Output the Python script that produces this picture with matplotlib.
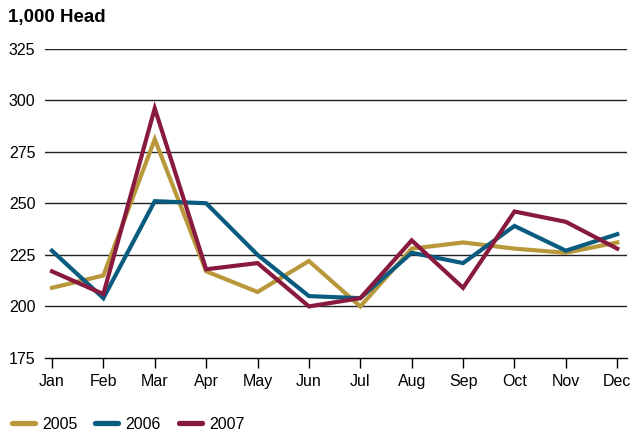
import matplotlib

matplotlib.use("Agg")
import matplotlib.pyplot as plt
import numpy as np

plt.rcParams["font.family"] = ["Liberation Sans", "DejaVu Sans"]

MONTHS = ["Jan", "Feb", "Mar", "Apr", "May", "Jun",
          "Jul", "Aug", "Sep", "Oct", "Nov", "Dec"]
YEARS = ["2005", "2006", "2007"]

# monthly values, 1,000 head
head_2005 = [209, 215, 281, 217, 207, 222, 200, 228, 231, 228, 226, 231]
head_2006 = [227, 204, 251, 250, 225, 205, 204, 226, 221, 239, 227, 235]
head_2007 = [217, 206, 296, 218, 221, 200, 204, 232, 209, 246, 241, 228]

Y_TICKS = [175, 200, 225, 250, 275, 300, 325]

COLORS = {"2005": "#B8983A", "2006": "#0A5B80", "2007": "#891A3F"}

fig = plt.figure(figsize=(6.3, 4.36), dpi=100)
ax = fig.add_axes([45 / 630, 1 - 358 / 436, 582 / 630, (358 - 48.5) / 436])

x = np.arange(len(MONTHS))
for year, vals in zip(YEARS, [head_2005, head_2006, head_2007]):
    ax.plot(x, vals, color=COLORS[year], linewidth=3.0, label=year,
            solid_joinstyle="miter", zorder=3)

ax.set_ylim(175, 325)
ax.set_xlim(-0.136, 11.19)
ax.set_yticks(Y_TICKS)
ax.set_yticklabels([str(v) for v in Y_TICKS], fontsize=11.5)
ax.set_xticks(x)
ax.set_xticklabels(MONTHS, fontsize=11.5)

for v in Y_TICKS[1:]:
    ax.axhline(v, color="#222222", linewidth=1.0, zorder=1)

for side in ["top", "right", "left"]:
    ax.spines[side].set_visible(False)
ax.spines["bottom"].set_color("black")
ax.spines["bottom"].set_linewidth(1.0)
ax.tick_params(axis="y", length=0, pad=7)
ax.tick_params(axis="x", length=7.5, width=1.0, direction="out", pad=4)

fig.text(8 / 630, 1 - 9 / 436, "1,000 Head", fontsize=13.5, fontweight="bold",
         ha="left", va="top")

leg = fig.legend(loc="center left", bbox_to_anchor=(12 / 630, 1 - 424 / 436),
                 ncol=3, frameon=False, fontsize=11.5, handlelength=1.45,
                 handletextpad=0.45, columnspacing=1.1, borderaxespad=0,
                 borderpad=0)
for line in leg.get_lines():
    line.set_linewidth(3.8)
    line.set_solid_capstyle("round")

fig.savefig("out.png", dpi=100)
